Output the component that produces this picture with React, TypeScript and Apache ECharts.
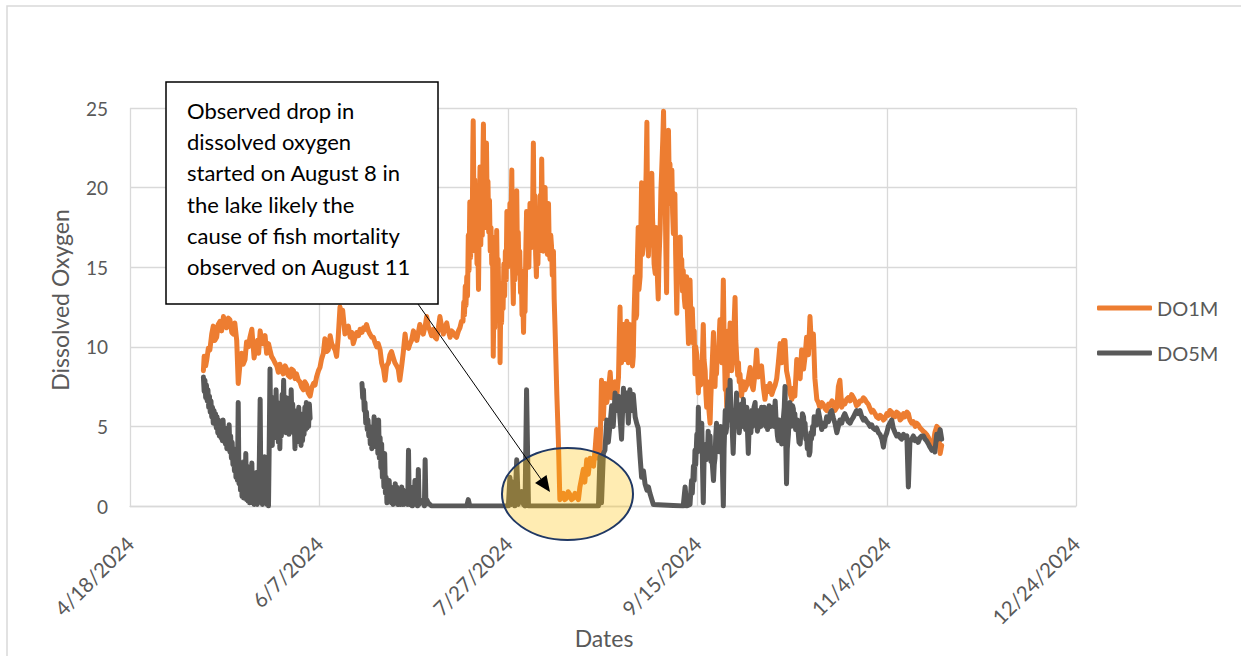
import React, { useEffect, useRef } from "react";
import * as echarts from "echarts";

// x = days after 4/18/2024, y = dissolved oxygen
const X_TICK_LABELS = ["4/18/2024", "6/7/2024", "7/27/2024", "9/15/2024", "11/4/2024", "12/24/2024"];
const X_MIN = 0;
const X_MAX = 250;
const X_STEP = 50;
const Y_MIN = 0;
const Y_MAX = 25;
const Y_STEP = 5;

const SERIES_NAMES = ["DO1M", "DO5M"];

const DO1M: [number, number][] = [
  [19.4, 8.5], [19.6, 9.4], [20.0, 8.8], [20.3, 9.2], [20.7, 9.9], [21.1, 9.8], [21.6, 10.8], [22.0, 11.3],
  [22.4, 10.4], [22.9, 10.6], [23.3, 11.4], [23.8, 11.6], [24.2, 11.0], [24.7, 11.9], [25.1, 11.3], [25.5, 11.2],
  [26.0, 11.8], [26.4, 11.7], [26.9, 10.9], [27.3, 10.8], [27.7, 11.5], [28.2, 10.4], [28.6, 7.7], [29.1, 9.0],
  [29.5, 9.6], [29.9, 8.9], [30.4, 9.2], [30.8, 10.3], [31.3, 10.0], [31.7, 10.6], [32.2, 11.1], [32.8, 9.3],
  [33.3, 10.1], [33.7, 10.4], [34.0, 9.6], [34.4, 11.0], [34.8, 10.4], [35.2, 10.2], [35.7, 10.7], [36.1, 9.6],
  [36.6, 10.2], [37.0, 9.8], [37.4, 9.4], [37.9, 9.2], [38.3, 9.0], [38.8, 8.8], [39.2, 8.4], [39.6, 8.9],
  [40.1, 8.5], [40.5, 8.3], [41.0, 8.8], [41.4, 8.6], [41.8, 8.2], [42.3, 8.1], [42.7, 8.6], [43.2, 8.5],
  [43.6, 8.0], [44.0, 8.3], [44.5, 7.9], [44.9, 7.8], [45.3, 7.5], [45.8, 7.3], [46.2, 7.8], [46.7, 7.6],
  [47.1, 7.1], [47.6, 6.9], [48.0, 7.4], [48.5, 7.7], [48.9, 7.6], [49.3, 8.1], [49.8, 8.5], [50.2, 8.7],
  [50.6, 9.2], [51.1, 9.6], [51.5, 10.5], [52.0, 9.7], [52.4, 9.8], [52.9, 10.7], [53.3, 10.2], [53.7, 10.0],
  [54.2, 9.8], [54.6, 9.4], [55.0, 10.5], [55.5, 12.5], [55.9, 11.8], [56.2, 12.3], [56.8, 10.8], [57.3, 11.0],
  [57.7, 11.3], [58.2, 10.6], [58.6, 10.9], [59.0, 10.2], [59.5, 10.6], [59.9, 10.9], [60.4, 10.7], [60.8, 11.1],
  [61.3, 10.9], [61.7, 11.2], [62.1, 11.1], [62.5, 11.4], [63.0, 11.0], [63.4, 10.8], [63.9, 10.6], [64.3, 10.6],
  [64.7, 10.3], [65.2, 10.0], [65.6, 10.2], [66.1, 9.8], [66.5, 9.0], [67.0, 8.6], [67.4, 7.9], [67.8, 8.8],
  [68.3, 9.0], [68.7, 9.5], [69.1, 9.7], [69.6, 9.3], [70.0, 9.0], [70.5, 8.8], [70.9, 8.6], [71.3, 7.9],
  [71.8, 8.8], [72.2, 9.6], [72.7, 10.8], [73.1, 10.0], [73.6, 9.9], [74.0, 10.2], [74.4, 10.4], [74.9, 11.0],
  [75.3, 10.6], [75.8, 10.4], [76.2, 10.9], [76.6, 11.4], [77.1, 11.0], [77.5, 10.8], [78.0, 11.3], [78.4, 11.9],
  [78.8, 11.3], [79.3, 11.0], [79.7, 10.7], [80.2, 11.1], [80.6, 10.6], [81.0, 10.5], [81.5, 11.2], [81.9, 11.9],
  [82.4, 11.2], [82.8, 10.8], [83.2, 11.2], [83.7, 11.5], [84.1, 11.0], [84.6, 10.6], [85.0, 11.0], [85.4, 10.9],
  [85.9, 10.7], [86.3, 10.6], [86.8, 11.0], [87.2, 11.2], [87.6, 11.6],
  [88.0, 11.6], [88.2, 12.8], [88.4, 12.0], [88.6, 13.8], [88.8, 12.6], [89.0, 14.4], [89.2, 13.2], [89.4, 17.0],
  [89.6, 14.8], [89.8, 19.1], [90.0, 15.6], [90.2, 18.2], [90.4, 16.0], [90.6, 22.5], [90.7, 24.2], [90.9, 18.6],
  [91.1, 20.5], [91.3, 16.2], [91.5, 18.4], [91.7, 15.2], [91.9, 17.0], [92.1, 13.6], [92.3, 18.0], [92.5, 21.3],
  [92.7, 16.4], [92.9, 19.5], [93.1, 17.0], [93.3, 22.4], [93.4, 24.0], [93.6, 18.2], [93.8, 21.0], [94.0, 17.5],
  [94.2, 22.8], [94.4, 18.6], [94.6, 20.4], [94.8, 17.2], [95.0, 19.2], [95.2, 16.0], [95.4, 17.5], [95.6, 15.2],
  [95.8, 16.9], [96.0, 9.4], [96.2, 13.5], [96.4, 11.2], [96.6, 15.0], [96.8, 12.4], [96.9, 17.3], [97.1, 13.8],
  [97.3, 15.5], [97.5, 12.0], [97.7, 13.2], [97.8, 9.0], [98.0, 13.0], [98.2, 11.5], [98.4, 14.0], [98.6, 12.4],
  [98.8, 15.2], [99.0, 13.2], [99.2, 16.0], [99.4, 14.2], [99.6, 18.5], [99.8, 15.0], [100.0, 17.8], [100.2, 15.6],
  [100.4, 19.0], [100.6, 16.2], [100.9, 21.1], [101.1, 15.0], [101.3, 12.7], [101.5, 16.6], [101.7, 14.2], [101.9, 18.0],
  [102.1, 15.8], [102.2, 19.8], [102.4, 15.4], [102.6, 17.2], [102.8, 14.6], [103.0, 16.0], [103.2, 13.4], [103.4, 14.8],
  [103.6, 12.0], [103.8, 13.2], [104.0, 10.9], [104.2, 13.8], [104.4, 12.2], [104.6, 16.0], [104.8, 18.5], [105.0, 15.2],
  [105.2, 17.6], [105.4, 15.0], [105.7, 19.0], [105.9, 16.2], [106.1, 18.4], [106.3, 16.6], [106.6, 22.8], [106.8, 17.2],
  [107.0, 19.5], [107.2, 15.8], [107.4, 14.4], [107.6, 16.8], [107.8, 15.2], [108.0, 17.5], [108.2, 16.0], [108.4, 19.5],
  [108.6, 17.0], [108.8, 21.8], [109.0, 18.0], [109.2, 16.0], [109.4, 18.2], [109.7, 20.0], [109.9, 16.5], [110.1, 17.6],
  [110.3, 15.8], [110.6, 19.0], [110.8, 16.0], [111.0, 15.5], [111.2, 17.0], [111.4, 16.3], [111.6, 14.5], [111.9, 16.0],
  [112.1, 13.0], [112.3, 11.4], [112.8, 7.0], [113.2, 4.2], [113.6, 0.4],
  [114.0, 0.6], [114.5, 0.8], [114.9, 0.4], [115.4, 0.5], [115.8, 0.9], [116.3, 0.7], [116.7, 0.4], [117.2, 0.5],
  [117.6, 0.8], [118.0, 0.6], [118.5, 0.4], [118.9, 1.2], [119.4, 1.8], [119.8, 2.3], [120.2, 1.5], [120.7, 2.9],
  [121.1, 2.0], [121.6, 3.0], [122.0, 2.6], [122.5, 2.5], [122.9, 3.5], [123.3, 4.8], [123.8, 3.0], [124.2, 3.1],
  [124.6, 7.9], [125.1, 5.5], [125.5, 7.7], [126.0, 6.5], [126.4, 7.2], [126.9, 8.4], [127.3, 6.8], [127.7, 7.3],
  [128.2, 7.8], [128.6, 6.8],
  [129.1, 8.1], [129.3, 10.5], [129.5, 12.5], [129.7, 9.4], [129.9, 9.0], [130.1, 10.8], [130.4, 11.4], [130.6, 9.2],
  [130.8, 9.5], [131.0, 10.6], [131.3, 11.6], [131.5, 9.6], [131.7, 9.0], [131.9, 10.2], [132.1, 11.4], [132.4, 9.8],
  [132.6, 10.0], [132.8, 8.8], [133.0, 9.4], [133.2, 12.0], [133.5, 14.4], [133.7, 11.8], [133.9, 12.0], [134.1, 15.5],
  [134.3, 17.5], [134.5, 13.6], [134.8, 14.4], [135.0, 17.2], [135.2, 20.3], [135.4, 15.8], [135.7, 16.5], [135.9, 19.5],
  [136.1, 18.0], [136.4, 21.0], [136.6, 24.1], [136.8, 17.8], [137.0, 15.7], [137.2, 18.2], [137.4, 19.0], [137.6, 16.4],
  [137.9, 20.9], [138.1, 18.0], [138.3, 17.0], [138.5, 15.2], [138.8, 14.6], [139.0, 17.5], [139.2, 16.5], [139.4, 14.2],
  [139.6, 13.0], [139.8, 15.5], [140.1, 17.4], [140.3, 19.8], [140.5, 21.0], [140.8, 23.0], [141.0, 24.8], [141.2, 21.4],
  [141.4, 20.3], [141.6, 16.2], [141.8, 13.4], [142.0, 19.0], [142.3, 23.6], [142.5, 20.4], [142.7, 21.5], [142.9, 19.0],
  [143.2, 21.1], [143.4, 18.4], [143.6, 17.1], [143.8, 18.6], [144.0, 19.6], [144.2, 15.8], [144.5, 12.1], [144.7, 15.0],
  [144.9, 16.5], [145.1, 14.6], [145.4, 16.9], [145.6, 14.2], [145.8, 15.5], [146.0, 13.5], [146.2, 14.8], [146.5, 13.0],
  [146.7, 12.5], [146.9, 13.8], [147.1, 14.4], [147.3, 12.2], [147.6, 10.2], [147.8, 12.6], [148.0, 14.2], [148.2, 12.0],
  [148.4, 11.5], [148.6, 12.4], [148.9, 10.2], [149.1, 11.0], [149.3, 8.3], [149.5, 10.0], [149.8, 9.5], [150.0, 8.4],
  [150.2, 7.1], [150.4, 8.6], [150.6, 9.0], [150.8, 7.6], [151.1, 8.0], [151.3, 9.6], [151.5, 11.4], [151.7, 9.2],
  [152.0, 8.5], [152.2, 7.0], [152.4, 6.2], [152.6, 7.8], [152.8, 7.5], [153.0, 6.0], [153.3, 5.2], [153.5, 6.8],
  [153.7, 8.0], [153.9, 9.2], [154.2, 10.9], [154.4, 8.6], [154.6, 7.5], [154.8, 9.0], [155.0, 8.3], [155.2, 9.8],
  [155.5, 9.5], [155.7, 10.6], [155.9, 11.7], [156.1, 10.0], [156.4, 9.0], [156.6, 11.5], [156.8, 14.2], [157.0, 10.5],
  [157.3, 7.3], [157.5, 8.0], [157.7, 6.2], [157.9, 9.0], [158.1, 11.0], [158.3, 9.6], [158.6, 11.5], [158.8, 9.4],
  [159.0, 8.5], [159.2, 9.2], [159.5, 10.5], [159.7, 11.8], [159.9, 13.1], [160.1, 10.4], [160.3, 9.5], [160.6, 8.2],
  [160.8, 9.0], [161.0, 7.8], [161.2, 8.3], [161.6, 6.9], [162.1, 7.8], [162.5, 7.3], [163.0, 7.6],
  [163.4, 8.0], [163.9, 8.7], [164.3, 7.6], [164.7, 7.3], [165.2, 8.4], [165.6, 9.8], [166.0, 8.1], [166.3, 8.5],
  [166.9, 8.8], [167.4, 7.4], [167.8, 6.7], [168.2, 7.5], [168.7, 7.2], [169.1, 7.7], [169.6, 7.0], [170.0, 7.3],
  [170.5, 7.6], [170.9, 8.0], [171.3, 8.9], [171.8, 10.2], [172.2, 9.0], [172.7, 10.4], [173.1, 10.4], [173.5, 8.5],
  [174.0, 7.9], [174.4, 7.1], [174.9, 6.7], [175.3, 7.4], [175.7, 6.9], [176.2, 9.2], [176.6, 8.3], [177.1, 8.0],
  [177.5, 9.8], [178.0, 8.6], [178.4, 9.4], [178.8, 10.6], [179.3, 9.5], [179.7, 11.9], [180.1, 10.0], [180.6, 10.8],
  [181.0, 8.0], [181.5, 6.7], [181.9, 6.5], [182.3, 6.2], [182.8, 6.5], [183.2, 6.4], [183.7, 6.1], [184.1, 6.0],
  [184.6, 6.4], [185.0, 6.3], [185.5, 6.6], [185.9, 6.5], [186.3, 6.0], [186.8, 6.2], [187.2, 7.5], [187.6, 7.9],
  [188.1, 6.2], [188.5, 6.6], [188.9, 6.4], [189.4, 6.7], [189.8, 6.8], [190.3, 6.6], [190.7, 7.0], [191.2, 6.8],
  [191.6, 6.6], [192.0, 6.3], [192.5, 6.4], [192.9, 6.6], [193.4, 6.6], [193.8, 6.8], [194.2, 6.7], [194.7, 6.5],
  [195.1, 6.4], [195.6, 6.1], [196.0, 5.9], [196.4, 6.0], [196.9, 5.8], [197.3, 5.6], [197.8, 5.5], [198.2, 5.7],
  [198.7, 5.6], [199.1, 5.4], [199.5, 5.5], [200.0, 5.8], [200.4, 5.7], [200.8, 6.0], [201.3, 5.9], [201.7, 5.6],
  [202.2, 5.6], [202.6, 5.9], [203.1, 5.8], [203.5, 5.4], [203.9, 5.5], [204.4, 5.8], [204.8, 5.6], [205.3, 5.9],
  [205.7, 5.8], [206.1, 5.4], [206.6, 5.2], [207.0, 5.3], [207.5, 5.0], [207.9, 5.2], [208.3, 5.1], [208.8, 4.9],
  [209.2, 4.8], [209.6, 4.7], [210.1, 4.6], [210.5, 4.5], [211.0, 4.3], [211.4, 4.0], [211.9, 3.6], [212.3, 4.0],
  [212.7, 4.6], [213.2, 5.0], [213.6, 4.9], [214.1, 3.3], [214.5, 3.8],
];

const DO5M: [number, number | null][] = [
  [19.4, 8.1], [19.6, 7.2], [19.8, 7.9], [20.0, 6.8], [20.2, 7.6], [20.4, 6.6], [20.6, 7.3], [20.8, 6.2],
  [21.0, 6.9], [21.2, 5.9], [21.4, 6.6], [21.6, 5.6], [21.8, 6.2], [22.0, 5.2], [22.2, 6.0], [22.4, 5.3],
  [22.6, 5.8], [22.8, 4.9], [23.0, 5.6], [23.2, 4.6], [23.4, 5.4], [23.6, 4.4], [23.8, 5.3], [24.0, 4.3],
  [24.2, 5.0], [24.4, 4.1], [24.6, 5.4], [24.8, 4.2], [25.0, 4.8], [25.2, 3.9], [25.4, 4.6], [25.6, 3.6],
  [25.8, 4.9], [26.0, 3.7], [26.2, 5.1], [26.4, 3.4], [26.6, 4.4], [26.8, 3.0], [27.0, 4.0], [27.2, 2.6],
  [27.4, 3.6], [27.6, 2.2], [27.8, 3.4], [28.0, 1.8], [28.2, 3.0], [28.4, 1.6], [28.6, 6.5], [28.8, 1.4],
  [29.0, 2.8], [29.2, 1.0], [29.4, 2.4], [29.6, 0.6], [29.8, 2.2], [30.0, 0.5], [30.2, 2.8], [30.4, 0.8],
  [30.6, 3.3], [30.8, 0.4], [31.0, 2.5], [31.2, 0.3], [31.4, 1.9], [31.6, 0.2], [31.8, 2.2], [32.0, 0.3],
  [32.2, 2.7], [32.4, 0.2], [32.6, 2.0], [32.8, 0.1], [33.0, 1.6], [33.2, 0.2], [33.4, 2.1], [33.6, 0.1],
  [33.8, 2.0], [34.0, 0.3], [34.2, 3.2], [34.4, 6.7], [34.6, 0.2], [34.8, 1.8], [35.0, 0.1], [35.2, 2.4],
  [35.4, 0.5], [35.6, 3.1], [35.8, 0.3], [36.0, 1.6], [36.2, 0.1], [36.4, 1.0], [36.6, 0.0], [36.8, 4.0],
  [37.0, 8.6], [37.2, 4.2], [37.4, 6.4], [37.6, 3.8], [37.8, 6.8], [38.0, 4.6], [38.2, 6.2], [38.4, 4.3],
  [38.6, 7.3], [38.8, 5.0], [39.0, 6.5], [39.2, 4.0], [39.4, 5.8], [39.6, 3.6], [39.8, 6.2], [40.0, 4.4],
  [40.2, 7.0], [40.4, 5.2], [40.6, 7.9], [40.8, 5.0], [41.0, 6.4], [41.2, 4.6], [41.4, 6.8], [41.6, 4.8],
  [41.8, 6.0], [42.0, 4.5], [42.2, 6.6], [42.4, 5.0], [42.6, 7.3], [42.8, 5.2], [43.0, 6.4], [43.2, 4.6],
  [43.4, 5.4], [43.6, 3.6], [43.8, 5.5], [44.0, 4.2], [44.2, 6.0], [44.4, 4.6], [44.6, 6.2], [44.8, 4.0],
  [45.0, 5.6], [45.2, 3.8], [45.4, 5.3], [45.6, 4.1], [45.8, 5.8], [46.0, 4.5], [46.2, 6.2], [46.4, 4.8],
  [46.6, 6.5], [46.8, 4.9], [47.0, 6.0], [47.2, 5.0], [47.4, 6.4], [47.6, 5.5], [54.0, null],
  [61.3, 7.7], [61.5, 6.8], [61.7, 7.3], [61.9, 6.0], [62.1, 6.5], [62.3, 5.2], [62.5, 5.9], [62.7, 4.8],
  [62.9, 5.4], [63.1, 4.4], [63.3, 5.0], [63.5, 3.9], [63.7, 4.6], [63.9, 3.6], [64.1, 4.8], [64.3, 3.8],
  [64.5, 5.6], [64.7, 4.0], [64.9, 5.2], [65.1, 3.7], [65.3, 4.6], [65.5, 3.3], [65.7, 5.4], [65.9, 3.0],
  [66.1, 4.3], [66.3, 2.4], [66.5, 3.9], [66.7, 1.8], [66.9, 2.8], [67.1, 1.2], [67.3, 3.3], [67.5, 0.8],
  [67.7, 1.8], [67.9, 0.2], [68.1, 1.2], [68.3, 0.3], [68.5, 1.6], [68.7, 0.4], [68.9, 1.2], [69.1, 0.2],
  [69.3, 0.8], [69.5, 0.1], [69.7, 1.0], [69.9, 0.2], [70.1, 1.4], [70.3, 0.3], [70.5, 1.2], [70.7, 0.1],
  [70.9, 0.6], [71.1, 0.1], [71.3, 0.4], [71.5, 0.1], [71.8, 1.2], [72.0, 0.1], [72.2, 1.0], [72.4, 0.1],
  [72.7, 0.2], [73.1, 0.4], [73.4, 0.1], [73.6, 3.5], [73.8, 0.1], [74.0, 0.3], [74.4, 0.6], [74.6, 0.0],
  [74.9, 1.2], [75.1, 0.1], [75.3, 1.6], [75.6, 0.1], [75.8, 0.3], [76.0, 0.0], [76.2, 2.3], [76.4, 0.1],
  [76.6, 0.4], [77.1, 0.2], [77.5, 0.3], [77.8, 0.0], [78.0, 2.9], [78.2, 0.1], [78.4, 0.4], [78.8, 0.2],
  [79.7, 0.0], [89.0, 0.0], [89.4, 0.4], [89.8, 0.0], [100.0, 0.0], [100.4, 1.8], [100.8, 0.1],
  [101.2, 1.5], [101.7, 0.0], [102.2, 2.9], [102.6, 0.1], [103.5, 0.9], [104.0, 0.1], [104.4, 0.0], [104.8, 7.3],
  [105.3, 0.0], [123.8, 0.0], [124.2, 3.1], [124.6, 0.2], [125.1, 3.3], [125.5, 3.5], [126.0, 5.4], [126.4, 4.0],
  [126.9, 5.2], [127.3, 6.3], [127.7, 5.0], [128.2, 7.1], [128.6, 6.0], [129.1, 6.9], [129.5, 5.5], [129.9, 4.2],
  [130.4, 7.4], [130.8, 6.0], [131.3, 7.1], [131.7, 5.2], [132.1, 7.3], [132.6, 6.0], [133.0, 7.0], [133.5, 5.6],
  [133.9, 5.2], [134.3, 4.9], [134.8, 3.1], [135.2, 1.8], [135.7, 2.2], [136.1, 1.4], [136.6, 1.0], [137.0, 1.2],
  [137.4, 0.8], [138.3, 0.1], [146.2, 0.0], [146.7, 1.2], [147.1, 0.0],
  [148.0, 0.1], [148.2, 0.9], [148.4, 1.6], [148.6, 0.8], [148.9, 2.5], [149.1, 1.6], [149.3, 3.5], [149.5, 2.6],
  [149.8, 4.5], [150.0, 3.4], [150.2, 6.2], [150.4, 4.2], [150.6, 4.8], [150.8, 3.9], [151.1, 5.2], [151.3, 2.4],
  [151.5, 0.2], [151.7, 2.8], [152.0, 3.8], [152.2, 2.9], [152.4, 3.9], [152.6, 3.2], [152.8, 4.7], [153.0, 3.6],
  [153.3, 4.4], [153.5, 2.8], [153.7, 3.5], [153.9, 2.6], [154.2, 1.6], [154.4, 2.6], [154.6, 3.0], [154.8, 4.4],
  [155.0, 5.2], [155.2, 3.8], [155.5, 4.5], [155.7, 3.4], [155.9, 3.9], [156.1, 5.0], [156.4, 4.8], [156.6, 2.0],
  [156.8, 0.0], [157.0, 3.6], [157.3, 6.0], [157.5, 4.6], [157.7, 5.0], [157.9, 6.4], [158.1, 7.3], [158.3, 5.4],
  [158.6, 7.9], [158.8, 5.6], [159.0, 6.0], [159.2, 4.5], [159.4, 3.3], [159.6, 4.8], [159.9, 5.5], [160.1, 6.2],
  [160.3, 7.1], [160.5, 5.0], [160.8, 5.5], [161.0, 4.6], [161.2, 5.2], [161.4, 6.0], [161.6, 6.4], [161.8, 5.0],
  [162.1, 6.7], [162.3, 5.1], [162.5, 5.6], [162.7, 4.8], [163.0, 6.2], [163.2, 4.6], [163.4, 3.3], [163.6, 4.8],
  [163.9, 5.4], [164.1, 4.6], [164.3, 6.0], [164.5, 5.0], [164.7, 5.2], [164.9, 6.2], [165.2, 6.5], [165.4, 5.2],
  [165.6, 5.6], [165.8, 4.7], [166.1, 5.0], [166.3, 6.0], [166.5, 5.9], [166.7, 5.0], [166.9, 6.2], [167.1, 5.2],
  [167.4, 5.4], [167.6, 6.2], [167.8, 6.0], [168.0, 5.0], [168.3, 5.8], [168.5, 4.8], [168.7, 5.3], [168.9, 6.3],
  [169.1, 6.1], [169.3, 5.0], [169.6, 5.2], [169.8, 6.2], [170.0, 5.9], [170.2, 5.0], [170.5, 6.6], [170.7, 5.6],
  [170.9, 5.0], [171.1, 4.4], [171.3, 4.1], [171.5, 5.4], [171.8, 5.3], [172.0, 4.6], [172.2, 3.9], [172.4, 5.0],
  [172.7, 5.6], [172.9, 6.2], [173.1, 7.5], [173.3, 4.0], [173.5, 1.4], [173.7, 3.6], [174.0, 4.5], [174.2, 5.5],
  [174.4, 6.5], [174.6, 5.0], [174.9, 5.2], [175.1, 6.3], [175.3, 6.1], [175.5, 5.0], [175.7, 5.8], [175.9, 4.8],
  [176.2, 5.0], [176.4, 5.4], [176.6, 4.6], [176.8, 4.0], [177.1, 3.9], [177.3, 4.6], [177.5, 4.8], [177.7, 5.8],
  [178.0, 5.6], [178.2, 4.8], [178.4, 5.2], [178.6, 4.2], [178.8, 4.4], [179.0, 3.6], [179.3, 4.0], [179.5, 3.2],
  [179.7, 3.4], [179.9, 4.6], [180.1, 4.2], [180.4, 5.0], [180.6, 4.5], [180.8, 5.6],
  [181.0, 5.4], [181.5, 5.1], [181.9, 6.0], [182.3, 5.5], [182.8, 4.8], [183.2, 5.2], [183.7, 5.0], [184.1, 5.6],
  [184.6, 5.3], [185.0, 5.8], [185.4, 6.0], [185.9, 5.5], [186.3, 5.2], [186.8, 4.6], [187.2, 5.0], [187.6, 5.4],
  [188.1, 5.2], [188.5, 5.6], [188.9, 5.8], [189.4, 5.5], [189.8, 5.3], [190.3, 5.2], [190.7, 5.4], [191.2, 5.6],
  [191.6, 5.8], [192.0, 6.0], [192.5, 5.8], [192.9, 6.0], [193.4, 5.6], [193.8, 5.4], [194.2, 5.5], [194.7, 5.3],
  [195.1, 5.2], [195.6, 5.0], [196.0, 5.1], [196.4, 4.9], [196.9, 4.8], [197.3, 4.9], [197.8, 4.6], [198.2, 4.5],
  [198.7, 4.2], [199.1, 3.7], [199.5, 4.3], [200.0, 4.6], [200.4, 5.0], [200.8, 5.2], [201.3, 5.4], [201.7, 4.9],
  [202.2, 4.6], [202.6, 4.4], [203.1, 4.5], [203.5, 4.3], [203.9, 4.2], [204.4, 4.5], [204.8, 4.3], [205.3, 4.4],
  [205.7, 1.2], [206.1, 4.0], [206.6, 4.2], [207.0, 4.4], [207.5, 4.1], [207.9, 4.2], [208.3, 4.0], [208.8, 4.3],
  [209.2, 4.4], [209.7, 4.4], [210.1, 4.2], [210.5, 4.1], [211.0, 3.9], [211.4, 3.7], [211.9, 3.5], [212.3, 3.6],
  [212.7, 3.4], [213.2, 4.5], [213.6, 4.2], [214.1, 4.8], [214.5, 4.2],
];

const ANNOTATION_LINES = [
  "Observed drop in",
  "dissolved oxygen",
  "started on August 8 in",
  "the lake likely the",
  "cause of fish mortality",
  "observed on August 11",
];

const FONT = 'Lato, "Noto Sans", "DejaVu Sans", sans-serif';
const ORANGE = "#ED7D31";
const GREY = "#595959";
const GRID_GREY = "#D9D9D9";
const TEXT_GREY = "#595959";

export default function App() {
  const ref = useRef<HTMLDivElement>(null);

  useEffect(() => {
    if (!ref.current) return;
    const chart = echarts.init(ref.current, null, { renderer: "svg" });

    // arrow geometry (annotation pointer)
    const ax1 = 418, ay1 = 304, ax2 = 550, ay2 = 492;
    const len = Math.hypot(ax2 - ax1, ay2 - ay1);
    const ux = (ax2 - ax1) / len, uy = (ay2 - ay1) / len;
    const headL = 16, headW = 7;
    const bx = ax2 - ux * headL, by = ay2 - uy * headL;

    chart.setOption({
      animation: false,
      backgroundColor: "#ffffff",
      textStyle: { fontFamily: FONT },
      grid: { left: 130, right: 165, top: 108, bottom: 150, containLabel: false },
      legend: {
        orient: "vertical",
        left: 1097,
        top: 298,
        padding: 0,
        itemWidth: 55,
        itemHeight: 5,
        itemGap: 25,
        icon: "roundRect",
        textStyle: { color: TEXT_GREY, fontSize: 20, fontFamily: FONT },
        data: SERIES_NAMES,
      },
      xAxis: {
        type: "value",
        min: X_MIN,
        max: X_MAX,
        interval: X_STEP,
        axisLine: { show: true, lineStyle: { color: GRID_GREY, width: 1.3 } },
        axisTick: { show: false },
        splitLine: { show: true, lineStyle: { color: GRID_GREY, width: 1.3 } },
        axisLabel: {
          rotate: 45,
          margin: 34,
          align: "right",
          verticalAlign: "middle",
          color: TEXT_GREY,
          fontSize: 20.5,
          fontFamily: FONT,
          formatter: (v: number) => X_TICK_LABELS[Math.round((v - X_MIN) / X_STEP)] ?? "",
        },
      },
      yAxis: {
        type: "value",
        min: Y_MIN,
        max: Y_MAX,
        interval: Y_STEP,
        axisLine: { show: false },
        axisTick: { show: false },
        splitLine: { show: true, lineStyle: { color: GRID_GREY, width: 1.3 } },
        axisLabel: { color: TEXT_GREY, fontSize: 19, fontFamily: FONT, margin: 22 },
      },
      series: [
        {
          name: SERIES_NAMES[0],
          type: "line",
          data: DO1M,
          showSymbol: false,
          symbol: "none",
          silent: true,
          connectNulls: false,
          lineStyle: { color: ORANGE, width: 5, cap: "round", join: "round" },
          itemStyle: { color: ORANGE },
          z: 2,
        },
        {
          name: SERIES_NAMES[1],
          type: "line",
          data: DO5M.map(([d, v]) => [d, v === null ? "-" : v]),
          showSymbol: false,
          symbol: "none",
          silent: true,
          connectNulls: false,
          lineStyle: { color: GREY, width: 5, cap: "round", join: "round" },
          itemStyle: { color: GREY },
          z: 3,
        },
      ],
      graphic: [
        {
          type: "rect",
          silent: true,
          z: -1,
          shape: { x: 7, y: 6, width: 1260, height: 680 },
          style: { fill: "none", stroke: GRID_GREY, lineWidth: 1.5 },
        },
        {
          type: "text",
          silent: true,
          x: 60,
          y: 300,
          rotation: Math.PI / 2,
          style: {
            text: "Dissolved Oxygen",
            fill: TEXT_GREY,
            font: `23px ${FONT}`,
            textAlign: "center",
            textVerticalAlign: "middle",
          },
        },
        {
          type: "text",
          silent: true,
          x: 604,
          y: 638,
          style: {
            text: "Dates",
            fill: TEXT_GREY,
            font: `23px ${FONT}`,
            textAlign: "center",
            textVerticalAlign: "middle",
          },
        },
        {
          type: "ellipse",
          silent: true,
          z: 50,
          shape: { cx: 567.5, cy: 494, rx: 65.5, ry: 46 },
          style: { fill: "rgba(255,192,0,0.3)", stroke: "#203864", lineWidth: 2 },
        },
        {
          type: "line",
          silent: true,
          z: 60,
          shape: { x1: ax1, y1: ay1, x2: bx, y2: by },
          style: { stroke: "#000000", lineWidth: 1 },
        },
        {
          type: "polygon",
          silent: true,
          z: 60,
          shape: {
            points: [
              [ax2, ay2],
              [bx - uy * headW, by + ux * headW],
              [bx + uy * headW, by - ux * headW],
            ],
          },
          style: { fill: "#000000" },
        },
        {
          type: "rect",
          silent: true,
          z: 70,
          shape: { x: 166, y: 82, width: 272, height: 222 },
          style: { fill: "#ffffff", stroke: "#000000", lineWidth: 1.5 },
        },
        {
          type: "text",
          silent: true,
          z: 71,
          x: 187,
          y: 94.5,
          style: {
            text: ANNOTATION_LINES.join("\n"),
            fill: "#000000",
            font: `22px ${FONT}`,
            lineHeight: 31.3,
            textAlign: "left",
            textVerticalAlign: "top",
          },
        },
      ],
    });

    return () => chart.dispose();
  }, []);

  return (
    <div
      ref={ref}
      style={{ position: "fixed", left: 0, top: 0, width: 1241, height: 656, background: "#ffffff" }}
    />
  );
}
